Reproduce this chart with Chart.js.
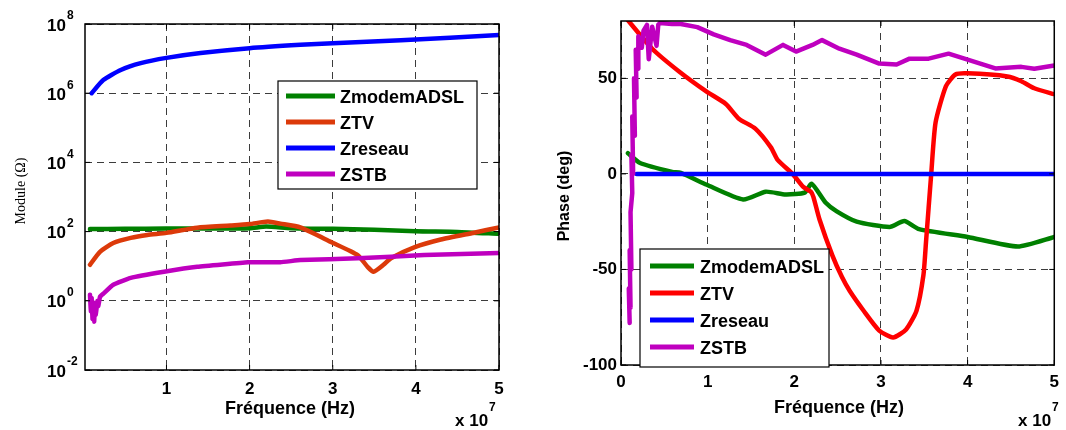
<!DOCTYPE html>
<html>
<head>
<meta charset="utf-8">
<script src="https://cdn.jsdelivr.net/npm/chart.js@4.4.1/dist/chart.umd.min.js"></script>
<style>
  html, body { margin: 0; padding: 0; background: #fff; width: 1066px; height: 430px; overflow: hidden; }
  .pane { position: absolute; top: 0; height: 430px; }
  #left { left: 0; width: 530px; }
  #right { left: 540px; width: 526px; }
</style>
</head>
<body>
<div class="pane" id="left"><canvas id="mod-chart"></canvas></div>
<div class="pane" id="right"><canvas id="phase-chart"></canvas></div>
<script>
const FONT = '"Liberation Sans", Arial, sans-serif';
const SERIF = '"Liberation Serif", "Times New Roman", serif';

// frequency values are in units of 1e7 Hz (axis shows "x 10^7")
// --- module |Z| (ohm), log axis ---
const modFreqADSL = [0.08, 0.5, 1, 1.5, 2, 2.2, 2.5, 3, 3.5, 4, 4.5, 5];
const modADSL     = [118, 120, 122, 122, 126, 140, 126, 120, 114, 102, 98, 86];
const modFreqTV = [0.08, 0.2, 0.36, 0.57, 0.77, 1, 1.37, 1.77, 2.0, 2.22, 2.37, 2.61, 2.98, 3.3, 3.42, 3.49, 3.61, 3.7, 3.98, 4.3, 4.7, 5];
const modTV     = [11, 26, 47, 66, 80, 92, 130, 150, 165, 195, 170, 132, 50, 21, 9.5, 6.9, 11, 17, 35, 59, 93, 132];
const modFreqRes = [0.1, 0.24, 0.45, 0.69, 1, 1.41, 2, 2.61, 3, 3.82, 5];
const modRes     = [1.0e6, 2.4e6, 4.7e6, 7.4e6, 1.05e7, 1.45e7, 2.0e7, 2.5e7, 2.8e7, 3.4e7, 4.8e7];
const modFreqSTB = [0.08, 0.09, 0.1, 0.11, 0.12, 0.13, 0.14, 0.15, 0.17, 0.18, 0.2, 0.24, 0.36, 0.57, 0.97, 1.37, 1.98, 2.37, 2.61, 3.3, 4.1, 5];
const modSTB     = [1.5, 0.5, 1.2, 0.3, 0.9, 0.25, 0.8, 0.4, 1.0, 0.7, 1.3, 1.6, 2.9, 4.6, 6.9, 9.6, 13, 13, 15, 17, 21, 24];

// --- phase (deg) ---
const phFreqADSL = [0.08, 0.22, 0.59, 0.69, 0.99, 1.41, 1.67, 1.9, 2.12, 2.2, 2.36, 2.49, 2.72, 3.1, 3.27, 3.44, 4.0, 4.58, 5];
const phADSL     = [10.8, 5.7, 1, 0.5, -5.7, -13.4, -9.3, -10.8, -9.8, -5.2, -15, -19.6, -25, -27.8, -24.7, -28.9, -33, -38, -33];
const phFreqTV = [0.05, 0.36, 0.67, 0.98, 1.21, 1.36, 1.55, 1.73, 1.81, 1.98, 2.1, 2.19, 2.22, 2.29, 2.44, 2.55, 2.64, 2.8, 2.98, 3.14, 3.29, 3.41, 3.49, 3.52, 3.58, 3.63, 3.75, 3.86, 4.0, 4.46, 4.62, 4.77, 5];
const phTV     = [82, 65.5, 53.6, 43.3, 36.6, 28.9, 23.7, 13.9, 7.2, 0, -6.7, -9.3, -12, -23.7, -42.8, -54, -61.3, -71.6, -82, -85.6, -81.4, -71.6, -53, -35.6, 0, 26.8, 45.9, 52, 52.6, 51, 48.5, 44.8, 41.7];
const phFreqRes = [0.18, 5];
const phRes     = [0, 0];
const phFreqSTB = [0.1, 0.09, 0.11, 0.1, 0.12, 0.11, 0.13, 0.12, 0.14, 0.13, 0.16, 0.15, 0.18, 0.17, 0.2, 0.2, 0.24, 0.26, 0.3, 0.32, 0.36, 0.41, 0.43, 0.45, 0.59, 0.69, 0.88, 1.07, 1.26, 1.45, 1.67, 1.87, 2.02, 2.21, 2.32, 2.52, 2.72, 2.98, 3.18, 3.33, 3.55, 3.78, 4.0, 4.32, 4.62, 4.77, 5];
const phSTB     = [-78, -60, -70, -40, -50, -20, -10, 10, 0, 30, 20, 50, 40, 65, 55, 72, 66, 75, 78, 60, 77, 67, 78, 79, 78.4, 78.4, 76.8, 73, 70, 67.5, 62.4, 67.5, 64, 67.5, 70, 65.5, 62.4, 57.7, 57.2, 60.3, 60.3, 62.9, 59.8, 55.2, 56, 55, 56.7];

const LABELS = ['ZmodemADSL', 'ZTV', 'Zreseau', 'ZSTB'];
const xTicksMod = [1, 2, 3, 4, 5];
const yExpMod = [-2, 0, 2, 4, 6, 8];
const xTicksPh = [0, 1, 2, 3, 4, 5];
const yTicksPh = [-100, -50, 0, 50];

const COL = { adsl: '#008000', tvL: '#dc3a0a', tv: '#ff0000', res: '#0000ff', stb: '#bf00bf' };

function pts(xs, ys) { return xs.map((x, i) => ({ x, y: ys[i] })); }
function ds(label, xs, ys, color, order, tension) {
  return { label, data: pts(xs, ys), borderColor: color, backgroundColor: color, borderWidth: 4.5,
    pointRadius: 0, tension: tension == null ? 0.2 : tension, order, borderJoinStyle: 'round', borderCapStyle: 'round' };
}

function framePlugin(o) {
  return {
    id: 'frame',
    afterDraw(chart) {
      const { ctx, chartArea: a, scales: { x, y } } = chart;
      ctx.save();
      // inward tick marks
      ctx.strokeStyle = '#000'; ctx.lineWidth = 1;
      ctx.beginPath();
      o.xt.forEach(v => { const p = x.getPixelForValue(v); ctx.moveTo(p, a.bottom); ctx.lineTo(p, a.bottom - 5); ctx.moveTo(p, a.top); ctx.lineTo(p, a.top + 5); });
      o.yt.forEach(v => { const p = y.getPixelForValue(v); ctx.moveTo(a.left, p); ctx.lineTo(a.left + 5, p); ctx.moveTo(a.right, p); ctx.lineTo(a.right - 5, p); });
      ctx.stroke();
      // box
      ctx.lineWidth = 1.5;
      ctx.strokeRect(a.left, a.top, a.right - a.left, a.bottom - a.top);
      // legend
      const L = o.legend;
      ctx.fillStyle = '#fff';
      ctx.fillRect(L.x0, L.y0, L.x1 - L.x0, L.y1 - L.y0);
      ctx.lineWidth = 1.2; ctx.strokeStyle = '#000';
      ctx.strokeRect(L.x0, L.y0, L.x1 - L.x0, L.y1 - L.y0);
      chart.data.datasets.forEach((d, i) => {
        const ry = L.rows[i];
        ctx.strokeStyle = d.borderColor; ctx.lineWidth = 5; ctx.lineCap = 'butt';
        ctx.beginPath(); ctx.moveTo(L.l0, ry - 2); ctx.lineTo(L.l1, ry - 2); ctx.stroke();
        ctx.fillStyle = '#000'; ctx.font = 'bold 18px ' + FONT;
        ctx.textAlign = 'left'; ctx.textBaseline = 'middle';
        ctx.fillText(d.label, L.tx, ry);
      });
      // axis titles
      ctx.fillStyle = '#000';
      ctx.font = 'bold 18px ' + FONT; ctx.textAlign = 'center'; ctx.textBaseline = 'middle';
      ctx.fillText('Fréquence (Hz)', o.xTitle[0], o.xTitle[1]);
      ctx.save();
      ctx.translate(o.yTitle[0], o.yTitle[1]); ctx.rotate(-Math.PI / 2);
      ctx.font = o.yTitleFont;
      ctx.fillText(o.yTitleText, 0, 0);
      ctx.restore();
      // x 10^7 multiplier
      ctx.font = 'bold 17px ' + FONT; ctx.textAlign = 'left';
      ctx.fillText('x 10', o.mult[0], o.mult[1]);
      const w = ctx.measureText('x 10').width;
      ctx.font = 'bold 12px ' + FONT;
      ctx.fillText('7', o.mult[0] + w + 1, o.mult[1] - 13);
      // custom log tick labels (10 with superscript)
      if (o.logLabels) {
        yExpMod.forEach(e => {
          const p = y.getPixelForValue(Math.pow(10, e));
          ctx.font = 'bold 17px ' + FONT; ctx.textAlign = 'right'; ctx.textBaseline = 'middle';
          ctx.fillText('10', o.logLabels, p + 2);
          ctx.font = 'bold 12px ' + FONT; ctx.textAlign = 'left';
          ctx.fillText(String(e), o.logLabels + 1, p - 8);
        });
      }
      ctx.restore();
    }
  };
}

const gridOpts = { color: '#3c3c3c', lineWidth: 1, drawTicks: false };
const borderOpts = { display: false, dash: [7, 5] };
const tickFont = { family: FONT, size: 17, weight: 'bold' };

new Chart(document.getElementById('mod-chart'), {
  type: 'line',
  data: {
    datasets: [
      ds(LABELS[0], modFreqADSL, modADSL, COL.adsl, 3),
      ds(LABELS[1], modFreqTV, modTV, COL.tvL, 2),
      ds(LABELS[2], modFreqRes, modRes, COL.res, 1),
      ds(LABELS[3], modFreqSTB, modSTB, COL.stb, 0, 0.1)
    ]
  },
  options: {
    responsive: true, maintainAspectRatio: false, animation: false, events: [],
    layout: { padding: { left: 0, top: 24, right: 31, bottom: 0 } },
    plugins: { legend: { display: false }, tooltip: { enabled: false } },
    scales: {
      x: { type: 'linear', min: 0.02, max: 5,
        afterBuildTicks: s => { s.ticks = xTicksMod.map(v => ({ value: v })); },
        afterFit: s => { s.height = 60; },
        grid: gridOpts, border: borderOpts,
        ticks: { color: '#000', font: tickFont, padding: 9, maxRotation: 0, autoSkip: false } },
      y: { type: 'logarithmic', min: 1e-2, max: 1e8,
        afterBuildTicks: s => { s.ticks = yExpMod.map(e => ({ value: Math.pow(10, e) })); },
        afterFit: s => { s.width = 85; },
        grid: gridOpts, border: borderOpts,
        ticks: { display: false } }
    }
  },
  plugins: [framePlugin({
    xt: xTicksMod, yt: yExpMod.map(e => Math.pow(10, e)),
    legend: { x0: 278, y0: 81, x1: 477, y1: 189, rows: [98, 124, 150, 176], l0: 286, l1: 335, tx: 340 },
    xTitle: [290, 409], yTitle: [21, 191], yTitleFont: '14px ' + SERIF, yTitleText: 'Module (Ω)',
    mult: [455, 421], logLabels: 66
  })]
});

new Chart(document.getElementById('phase-chart'), {
  type: 'line',
  data: {
    datasets: [
      ds(LABELS[0], phFreqADSL, phADSL, COL.adsl, 3),
      ds(LABELS[1], phFreqTV, phTV, COL.tv, 2),
      ds(LABELS[2], phFreqRes, phRes, COL.res, 1),
      ds(LABELS[3], phFreqSTB, phSTB, COL.stb, 0, 0)
    ]
  },
  options: {
    responsive: true, maintainAspectRatio: false, animation: false, events: [],
    layout: { padding: { left: 0, top: 21, right: 6, bottom: 0 } },
    plugins: { legend: { display: false }, tooltip: { enabled: false } },
    scales: {
      x: { type: 'linear', min: 0, max: 5,
        afterBuildTicks: s => { s.ticks = xTicksPh.map(v => ({ value: v })); },
        afterFit: s => { s.height = 65; },
        grid: gridOpts, border: borderOpts,
        ticks: { color: '#000', font: tickFont, padding: 7, maxRotation: 0, autoSkip: false } },
      y: { type: 'linear', min: -100, max: 80,
        afterBuildTicks: s => { s.ticks = yTicksPh.map(v => ({ value: v })); },
        afterFit: s => { s.width = 81; },
        grid: gridOpts, border: borderOpts,
        ticks: { color: '#000', font: tickFont, padding: 4 } }
    }
  },
  plugins: [framePlugin({
    xt: xTicksPh, yt: yTicksPh,
    legend: { x0: 100, y0: 249, x1: 289, y1: 367, rows: [268, 295, 322, 349], l0: 110, l1: 154, tx: 160 },
    xTitle: [299, 408], yTitle: [25, 196], yTitleFont: 'bold 16px ' + FONT, yTitleText: 'Phase (deg)',
    mult: [478, 421], logLabels: 0
  })]
});
</script>
</body>
</html>
